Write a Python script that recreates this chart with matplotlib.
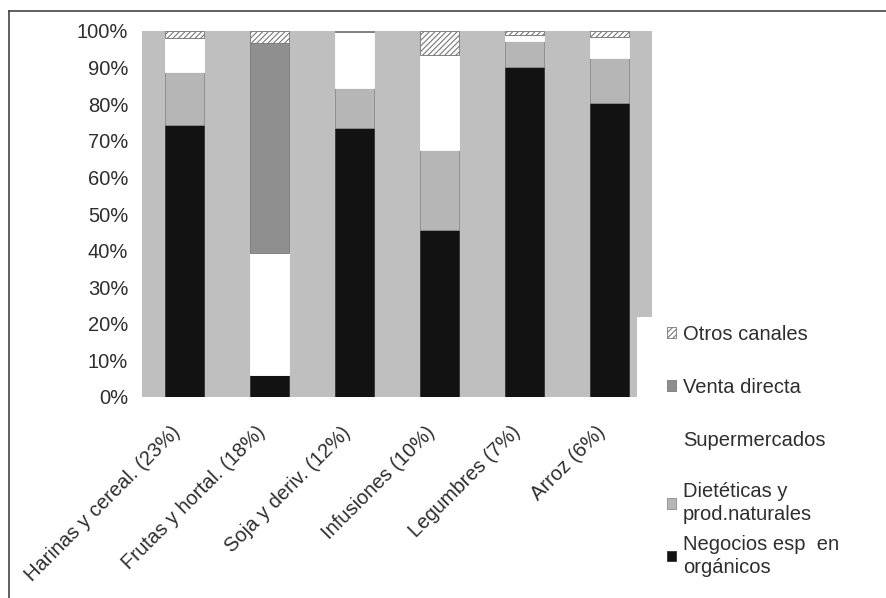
import matplotlib
matplotlib.use("Agg")
import matplotlib.pyplot as plt
import matplotlib.transforms as mtransforms
from matplotlib.lines import Line2D
from matplotlib.patches import Rectangle
import numpy as np

plt.rcParams['font.family'] = ['Liberation Sans', 'DejaVu Sans']
plt.rcParams['hatch.linewidth'] = 0.8

categories = ["Harinas y cereal. (23%)", "Frutas y hortal. (18%)", "Soja y deriv. (12%)",
              "Infusiones (10%)", "Legumbres (7%)", "Arroz (6%)"]

# share of each sales channel per product (percent), stacked bottom to top
negocios = [74.3, 6.0, 73.5, 45.6, 90.2, 80.3]
dieteticas = [14.5, 0.0, 10.9, 21.9, 7.0, 12.3]
supermercados = [9.3, 33.3, 15.3, 25.9, 1.8, 5.8]
venta_directa = [0.0, 57.4, 0.0, 0.0, 0.0, 0.0]
otros = [1.9, 3.3, 0.3, 6.6, 1.0, 1.6]

labels = ["Negocios esp  en\norgánicos", "Dietéticas y\nprod.naturales", "Supermercados",
          "Venta directa", "Otros canales"]
yticks = [0, 10, 20, 30, 40, 50, 60, 70, 80, 90, 100]

series = [negocios, dieteticas, supermercados, venta_directa, otros]
colors = ["#121212", "#b6b6b6", "#ffffff", "#8f8f8f", "#ffffff"]
hatches = [None, None, None, None, "//////"]
edges = ["#333333", "#8a8a8a", "#ffffff", "#7a7a7a", "#777777"]

FS = 14.5
TXT = "#2e2e2e"

fig = plt.figure(figsize=(8.87, 5.98), dpi=100)
ax = fig.add_axes([142 / 887, 1 - 397 / 598, 510 / 887, 366 / 598])
ax.set_facecolor("#bfbfbf")

x = np.arange(len(categories))
bottom = np.zeros(len(categories))
handles = []
for vals, c, h, ec in zip(series, colors, hatches, edges):
    vals = np.array(vals)
    bars = ax.bar(x, vals, width=0.47, bottom=bottom, color=c, hatch=h,
                  edgecolor=ec, linewidth=0.6)
    handles.append(bars)
    bottom += vals

ax.set_xlim(-0.5, len(categories) - 0.5)
ax.set_ylim(0, 100)
ax.set_yticks(yticks)
ax.set_yticklabels([f"{v}%" for v in yticks], fontsize=FS, color=TXT)
ax.set_xticks(x)
ax.set_xticklabels(categories, rotation=45, ha="right", va="top",
                   rotation_mode="anchor", fontsize=FS, color=TXT)
ax.tick_params(axis="y", length=0, pad=10)
ax.tick_params(axis="x", length=0, pad=18.5)
shift = mtransforms.ScaledTranslation(-0.14, 0, fig.dpi_scale_trans)
for lab in ax.get_xticklabels():
    lab.set_transform(lab.get_transform() + shift)
for s in ax.spines.values():
    s.set_visible(False)

# white legend area covering the lower right corner of the plot
fig.patches.append(Rectangle((637 / 887, 0), 1 - 637 / 887, 1 - 317 / 598,
                             transform=fig.transFigure, facecolor="white",
                             edgecolor="none", zorder=3))

leg_kw = dict(loc="upper left", frameon=False, fontsize=FS, handlelength=0.45,
              handleheight=0.45, handletextpad=0.35, borderpad=0, borderaxespad=0)
rev_h = handles[::-1]
rev_l = labels[::-1]
leg_a = fig.legend(rev_h[:3], rev_l[:3], bbox_to_anchor=(667 / 887, 1 - 325 / 598),
                   labelspacing=1.68, **leg_kw)
leg_b = fig.legend(rev_h[3:], rev_l[3:], bbox_to_anchor=(667 / 887, 1 - 482 / 598),
                   labelspacing=0.55, **leg_kw)
for leg in (leg_a, leg_b):
    leg.set_zorder(5)
    for t in leg.get_texts():
        t.set_color(TXT)
        t.set_linespacing(1.25)

# outer frame lines
fig.add_artist(Line2D([9 / 887, 9 / 887], [0, 1 - 11 / 598], transform=fig.transFigure,
                      color="#444444", linewidth=1.2, zorder=6))
fig.add_artist(Line2D([9 / 887, 1], [1 - 11 / 598, 1 - 11 / 598], transform=fig.transFigure,
                      color="#444444", linewidth=1.2, zorder=6))

fig.savefig("out.png", dpi=100, facecolor="white")
